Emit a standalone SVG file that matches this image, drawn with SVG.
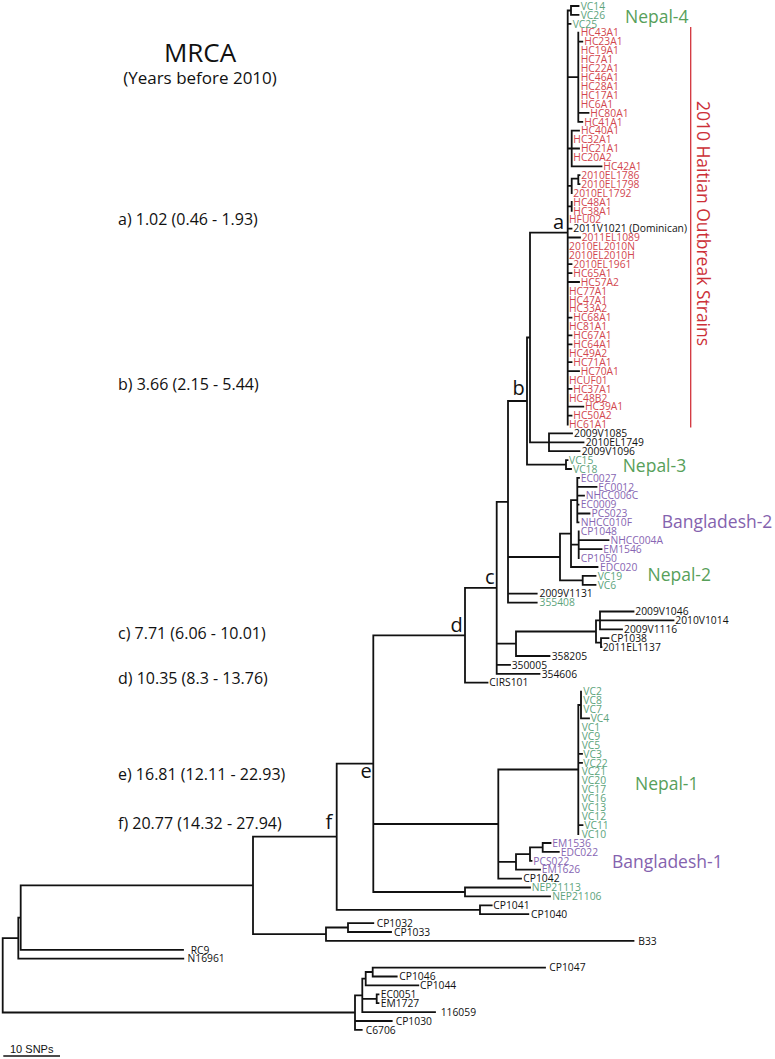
<svg xmlns="http://www.w3.org/2000/svg" width="775" height="1059" viewBox="0 0 775 1059">
<style>
text{font-family:"Open Sans","Liberation Sans",sans-serif}
.lf text{font-size:10.3px}
.r{fill:#d2474f}.g{fill:#5da47c}.p{fill:#8766b3}.k{fill:#111}
.grp{font-size:17.5px}
.gl{fill:#57a05a}.pl{fill:#8462ae}
.nl{font-size:20px;fill:#111}
.mr{font-size:16px;fill:#111}
.br{fill:none;stroke:#111;stroke-width:1.8;stroke-linecap:square}
</style>
<rect width="775" height="1059" fill="#fff"/>
<g id="title">
<text x="200" y="62.3" text-anchor="middle" style="font-size:26px" fill="#111">MRCA</text>
<text x="200" y="84" text-anchor="middle" style="font-size:17px" fill="#111">(Years before 2010)</text>
</g>
<g id="mrca-values" class="mr">
<text x="118" y="224.5">a) 1.02 (0.46 - 1.93)</text>
<text x="118" y="389.5">b) 3.66 (2.15 - 5.44)</text>
<text x="118" y="638.5">c) 7.71 (6.06 - 10.01)</text>
<text x="118" y="683.5">d) 10.35 (8.3 - 13.76)</text>
<text x="118" y="779.5">e) 16.81 (12.11 - 22.93)</text>
<text x="118" y="828.5">f) 20.77 (14.32 - 27.94)</text>
</g>
<g id="connectors">
<path class="br" d="M567.7,10.5V424.5 M567.7,10.5H571 M571,6V14.9 M571,6H578.5 M571,14.9H578.5 M567.7,23.8H570.5
M567.7,77.2H578.3 M578.3,32.7V121.8 M578.3,41.6H582.3 M578.3,112.8H588.5 M578.3,121.8H582.3
M567.7,148.5H571.7 M571.7,130.7V166.3 M571.7,130.7H579 M571.7,148.5H579 M571.7,166.3H601.5
M567.7,185.8H571.7 M571.7,178.6V193 M571.7,178.6H578.3 M578.3,175.2V184.1 M578.3,175.2H579.5 M578.3,184.1H579.5
M567.7,206.4H571.7 M571.7,201.9V210.8
M567.7,228.6H571.5 M567.7,237.5H580 M567.7,264.2H571.5 M567.7,273.1H571.5 M567.7,282H579 M567.7,317.6H571.5 M567.7,335.4H571.5 M567.7,344.4H571.5 M567.7,362.2H571.5 M567.7,371.1H579 M567.7,388.9H571.5 M567.7,406.7H583.3 M567.7,415.6H571.5
M530,232.7H567.7 M530,232.7V442.3 M530,442.3H549 M549,433.4V451.2 M549,433.4H572 M549,442.3H583.5 M549,451.2H579.5
M527,337.5H530 M527,337.5V464.6 M527,464.6H566 M566,460.1V469 M566,460.1H567.5 M566,469H571
M508,401H527 M508,401V602.6 M508,557H560 M508,593.7H536.7 M508,602.6H536.7
M560,533.6V580.4 M560,533.6H571 M560,580.4H582.7 M582.7,575.9V584.8 M582.7,575.9H595.5 M582.7,584.8H595.5
M571,500.2V567 M571,500.2H577.3 M571,544.7H578.7 M571,567H597.5
M577.3,477.9V522.4 M577.3,477.9H579 M577.3,486.8H596.5 M577.3,495.7H584 M577.3,504.6H578.5 M577.3,513.5H589.5 M577.3,522.4H578.5
M578.7,531.3V558 M578.7,540.2H608.5 M578.7,549.1H601.5
M496.7,501.8V673.8 M496.7,501.8H508 M496.7,643.7H516 M496.7,664.9H510 M496.7,673.8H539.5
M516,631.5V656 M516,631.5H596 M516,656H549.5
M596,620.4V642.6 M596,620.4H600 M596,642.6H601
M600,611.5V629.3 M600,611.5H633.5 M600,620.4H673.5 M600,629.3H622
M601,638.2V647.1 M601,638.2H608.5 M601,647.1H601.5
M465,587.8H496.7 M465,587.8V682.7 M465,682.7H487.5
M373.3,635.3H465 M373.3,635.3V892 M373.3,824H498.3 M373.3,892H465
M498.3,769.5V878.6 M498.3,769.5H578.3 M498.3,861.9H516 M498.3,878.6H521
M578.3,705V834.1 M578.3,705H581 M581,691.6V718.3 M581,718.3H589 M578.3,753.9H582 M578.3,762.8H582 M578.3,825.2H582.5
M516,854.1V869.7 M516,854.1H530 M516,869.7H540 M530,847.4V860.8 M530,847.4H542.7 M530,860.8H531.5 M542.7,843V851.9 M542.7,843H550.5 M542.7,851.9H558.8
M465,887.5V896.4 M465,887.5H530 M465,896.4H550
M336.7,763.6H373.3 M336.7,763.6V909.8 M336.7,909.8H480 M480,905.3V914.2 M480,905.3H491.7 M480,914.2H528.3
M253,836.7H336.7 M253,836.7V934.2 M253,934.2H326
M326,927.5V940.9 M326,927.5H348 M326,940.9H633.5 M348,923.1V932 M348,923.1H373.3 M348,932H391
M20.7,885.4H253 M20.7,885.4V949.8 M20.7,949.8H183
M18.3,917.6H20.7 M18.3,917.6V958.7 M18.3,958.7H183.3
M2.7,938.2V1012.5 M2.7,938.2H18.3 M2.7,1012.5H355
M355,995.3V1029.9 M355,995.3H362.3 M355,1021H391.7 M355,1029.9H361.7
M362.3,978.7V1012.1 M362.3,978.7H365.7 M362.3,998.8H376.7 M362.3,1012.1H435
M365.7,972V985.4 M365.7,972H372.7 M365.7,985.4H418.3
M372.7,967.6V976.5 M372.7,967.6H545 M372.7,976.5H396.7
M376.7,994.3V1003.2 M376.7,994.3H378.5 M376.7,1003.2H378.5"/>
<path d="M3.3,1056H60" stroke="#111" stroke-width="1.3" fill="none"/>
<path d="M690.7,27V427.5" stroke="#d2333b" stroke-width="1.3" fill="none"/>
</g>
<g id="node-labels" class="nl">
<g id="node-a"><text x="553" y="228.5">a</text></g>
<g id="node-b"><text x="512.5" y="395">b</text></g>
<g id="node-c"><text x="485" y="584.3">c</text></g>
<g id="node-d"><text x="450.5" y="631.7">d</text></g>
<g id="node-e"><text x="360.5" y="777.5">e</text></g>
<g id="node-f"><text x="325.5" y="829">f</text></g>
</g>
<g id="group-labels" class="grp">
<g id="lbl-nepal4"><text class="gl" x="625" y="22.7">Nepal-4</text></g>
<g id="lbl-nepal3"><text class="gl" x="622.7" y="471.7">Nepal-3</text></g>
<g id="lbl-bangladesh2"><text class="pl" x="661.7" y="527.7">Bangladesh-2</text></g>
<g id="lbl-nepal2"><text class="gl" x="647.5" y="581">Nepal-2</text></g>
<g id="lbl-nepal1"><text class="gl" x="635" y="790">Nepal-1</text></g>
<g id="lbl-bangladesh1"><text class="pl" x="612" y="868.3">Bangladesh-1</text></g>
<g id="lbl-haiti"><text transform="translate(697,223.5) rotate(90)" text-anchor="middle" style="font-size:17.5px" fill="#cc3037">2010 Haitian Outbreak Strains</text></g>
</g>
<g id="scale"><text x="10" y="1053" style="font-family:'Liberation Sans',Arial,sans-serif;font-size:11px" fill="#111">10 SNPs</text></g>
<g id="leaves" class="lf">
<g class="g">
<g id="n-VC14"><text x="580.7" y="9.7">VC14</text></g>
<g id="n-VC26"><text x="580.7" y="18.6">VC26</text></g>
<g id="n-VC25"><text x="572.7" y="27.5">VC25</text></g>
</g>
<g class="r">
<g id="n-HC43A1"><text x="580.7" y="36.4">HC43A1</text></g>
<g id="n-HC23A1"><text x="584.3" y="45.3">HC23A1</text></g>
<g id="n-HC19A1"><text x="580.7" y="54.2">HC19A1</text></g>
<g id="n-HC7A1"><text x="580.7" y="63.1">HC7A1</text></g>
<g id="n-HC22A1"><text x="580.7" y="72">HC22A1</text></g>
<g id="n-HC46A1"><text x="580.7" y="80.9">HC46A1</text></g>
<g id="n-HC28A1"><text x="580.7" y="89.8">HC28A1</text></g>
<g id="n-HC17A1"><text x="580.7" y="98.7">HC17A1</text></g>
<g id="n-HC6A1"><text x="580.7" y="107.6">HC6A1</text></g>
<g id="n-HC80A1"><text x="590.3" y="116.5">HC80A1</text></g>
<g id="n-HC41A1"><text x="584.3" y="125.5">HC41A1</text></g>
<g id="n-HC40A1"><text x="581" y="134.4">HC40A1</text></g>
<g id="n-HC32A1"><text x="573.3" y="143.3">HC32A1</text></g>
<g id="n-HC21A1"><text x="581" y="152.2">HC21A1</text></g>
<g id="n-HC20A2"><text x="573.3" y="161.1">HC20A2</text></g>
<g id="n-HC42A1"><text x="603.3" y="170">HC42A1</text></g>
<g id="n-2010EL1786"><text x="581.3" y="178.9">2010EL1786</text></g>
<g id="n-2010EL1798"><text x="581.3" y="187.8">2010EL1798</text></g>
<g id="n-2010EL1792"><text x="573.3" y="196.7">2010EL1792</text></g>
<g id="n-HC48A1"><text x="573.3" y="205.6">HC48A1</text></g>
<g id="n-HC38A1"><text x="573.3" y="214.5">HC38A1</text></g>
<g id="n-HFU02"><text x="569" y="223.4">HFU02</text></g>
<g id="n-2011EL1089"><text x="581.7" y="241.2">2011EL1089</text></g>
<g id="n-2010EL2010N"><text x="569" y="250.1">2010EL2010N</text></g>
<g id="n-2010EL2010H"><text x="569" y="259">2010EL2010H</text></g>
<g id="n-2010EL1961"><text x="573.3" y="267.9">2010EL1961</text></g>
<g id="n-HC65A1"><text x="573.3" y="276.8">HC65A1</text></g>
<g id="n-HC57A2"><text x="580.7" y="285.7">HC57A2</text></g>
<g id="n-HC77A1"><text x="569" y="294.6">HC77A1</text></g>
<g id="n-HC47A1"><text x="569" y="303.5">HC47A1</text></g>
<g id="n-HC33A2"><text x="569" y="312.4">HC33A2</text></g>
<g id="n-HC68A1"><text x="573.3" y="321.3">HC68A1</text></g>
<g id="n-HC81A1"><text x="569" y="330.2">HC81A1</text></g>
<g id="n-HC67A1"><text x="573.3" y="339.1">HC67A1</text></g>
<g id="n-HC64A1"><text x="573.3" y="348.1">HC64A1</text></g>
<g id="n-HC49A2"><text x="569" y="357">HC49A2</text></g>
<g id="n-HC71A1"><text x="573.3" y="365.9">HC71A1</text></g>
<g id="n-HC70A1"><text x="580.7" y="374.8">HC70A1</text></g>
<g id="n-HCUF01"><text x="569" y="383.7">HCUF01</text></g>
<g id="n-HC37A1"><text x="573.3" y="392.6">HC37A1</text></g>
<g id="n-HC48B2"><text x="569" y="401.5">HC48B2</text></g>
<g id="n-HC39A1"><text x="585" y="410.4">HC39A1</text></g>
<g id="n-HC50A2"><text x="573.3" y="419.3">HC50A2</text></g>
<g id="n-HC61A1"><text x="569" y="428.2">HC61A1</text></g>
</g>
<g class="k">
<g id="n-2011V1021"><text x="573.3" y="232.3">2011V1021 (Dominican)</text></g>
<g id="n-2009V1085"><text x="574" y="437.1">2009V1085</text></g>
<g id="n-2010EL1749"><text x="585.7" y="446">2010EL1749</text></g>
<g id="n-2009V1096"><text x="581.7" y="454.9">2009V1096</text></g>
</g>
<g class="g">
<g id="n-VC15"><text x="569" y="463.8">VC15</text></g>
<g id="n-VC18"><text x="573" y="472.7">VC18</text></g>
</g>
<g class="p">
<g id="n-EC0027"><text x="580.7" y="481.6">EC0027</text></g>
<g id="n-EC0012"><text x="598.3" y="490.5">EC0012</text></g>
<g id="n-NHCC006C"><text x="585.7" y="499.4">NHCC006C</text></g>
<g id="n-EC0009"><text x="580.7" y="508.3">EC0009</text></g>
<g id="n-PCS023"><text x="591.5" y="517.2">PCS023</text></g>
<g id="n-NHCC010F"><text x="580.7" y="526.1">NHCC010F</text></g>
<g id="n-CP1048"><text x="580.7" y="535">CP1048</text></g>
<g id="n-NHCC004A"><text x="610.5" y="543.9">NHCC004A</text></g>
<g id="n-EM1546"><text x="603.2" y="552.8">EM1546</text></g>
<g id="n-CP1050"><text x="580.7" y="561.7">CP1050</text></g>
<g id="n-EDC020"><text x="600" y="570.7">EDC020</text></g>
</g>
<g class="g">
<g id="n-VC19"><text x="597.7" y="579.6">VC19</text></g>
<g id="n-VC6"><text x="597.7" y="588.5">VC6</text></g>
<g id="n-355408"><text x="539.5" y="606.3">355408</text></g>
</g>
<g class="k">
<g id="n-2009V1131"><text x="539.5" y="597.4">2009V1131</text></g>
<g id="n-2009V1046"><text x="635.3" y="615.2">2009V1046</text></g>
<g id="n-2010V1014"><text x="675.3" y="624.1">2010V1014</text></g>
<g id="n-2009V1116"><text x="624" y="633">2009V1116</text></g>
<g id="n-CP1038"><text x="610.7" y="641.9">CP1038</text></g>
<g id="n-2011EL1137"><text x="602.7" y="650.8">2011EL1137</text></g>
<g id="n-358205"><text x="551.7" y="659.7">358205</text></g>
<g id="n-350005"><text x="511.7" y="668.6">350005</text></g>
<g id="n-354606"><text x="541.7" y="677.5">354606</text></g>
<g id="n-CIRS101"><text x="489.3" y="686.4">CIRS101</text></g>
</g>
<g class="g">
<g id="n-VC2"><text x="583.3" y="695.3">VC2</text></g>
<g id="n-VC8"><text x="583.3" y="704.2">VC8</text></g>
<g id="n-VC7"><text x="583.3" y="713.1">VC7</text></g>
<g id="n-VC4"><text x="590.7" y="722">VC4</text></g>
<g id="n-VC1"><text x="581.7" y="730.9">VC1</text></g>
<g id="n-VC9"><text x="581.7" y="739.8">VC9</text></g>
<g id="n-VC5"><text x="581.7" y="748.7">VC5</text></g>
<g id="n-VC3"><text x="583.3" y="757.6">VC3</text></g>
<g id="n-VC22"><text x="583.3" y="766.5">VC22</text></g>
<g id="n-VC21"><text x="581.7" y="775.4">VC21</text></g>
<g id="n-VC20"><text x="581.7" y="784.3">VC20</text></g>
<g id="n-VC17"><text x="581.7" y="793.2">VC17</text></g>
<g id="n-VC16"><text x="581.7" y="802.1">VC16</text></g>
<g id="n-VC13"><text x="581.7" y="811.1">VC13</text></g>
<g id="n-VC12"><text x="581.7" y="820">VC12</text></g>
<g id="n-VC11"><text x="584.3" y="828.9">VC11</text></g>
<g id="n-VC10"><text x="581.7" y="837.8">VC10</text></g>
</g>
<g class="p">
<g id="n-EM1536"><text x="552.3" y="846.7">EM1536</text></g>
<g id="n-EDC022"><text x="560.7" y="855.6">EDC022</text></g>
<g id="n-PCS022"><text x="533.3" y="864.5">PCS022</text></g>
<g id="n-EM1626"><text x="541.7" y="873.4">EM1626</text></g>
</g>
<g class="k"><g id="n-CP1042"><text x="523.3" y="882.3">CP1042</text></g></g>
<g class="g">
<g id="n-NEP21113"><text x="531.7" y="891.2">NEP21113</text></g>
<g id="n-NEP21106"><text x="552.3" y="900.1">NEP21106</text></g>
</g>
<g class="k">
<g id="n-CP1041"><text x="493.3" y="909">CP1041</text></g>
<g id="n-CP1040"><text x="531" y="917.9">CP1040</text></g>
<g id="n-CP1032"><text x="376.7" y="926.8">CP1032</text></g>
<g id="n-CP1033"><text x="394" y="935.7">CP1033</text></g>
<g id="n-B33"><text x="638.3" y="944.6">B33</text></g>
<g id="n-RC9"><text x="190.7" y="953.5">RC9</text></g>
<g id="n-N16961"><text x="187.5" y="962.4">N16961</text></g>
<g id="n-CP1047"><text x="549.3" y="971.3">CP1047</text></g>
<g id="n-CP1046"><text x="399.3" y="980.2">CP1046</text></g>
<g id="n-CP1044"><text x="420" y="989.1">CP1044</text></g>
<g id="n-EC0051"><text x="380.7" y="998">EC0051</text></g>
<g id="n-EM1727"><text x="380.7" y="1006.9">EM1727</text></g>
<g id="n-116059"><text x="440.7" y="1015.8">116059</text></g>
<g id="n-CP1030"><text x="395.7" y="1024.7">CP1030</text></g>
<g id="n-C6706"><text x="365.7" y="1033.6">C6706</text></g>
</g>
</g>
</svg>
